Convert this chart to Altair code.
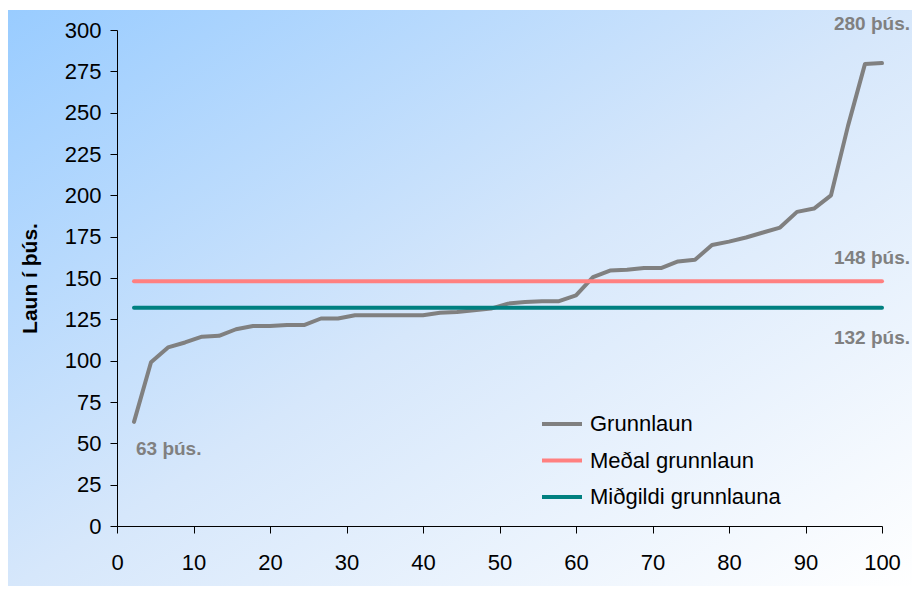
import altair as alt
import pandas as pd

# ---- data ----
grunnlaun = [63, 99, 108, 111, 114.5, 115, 119, 121, 121, 121.5, 121.5, 125.5, 125.5,
             127.5, 127.5, 127.5, 127.5, 127.5, 129, 129.5, 130.5, 131.5, 134.5, 135.5,
             136, 136, 139.5, 150.5, 154.5, 155, 156, 156, 160, 161, 170, 172, 174.5,
             177.5, 180.5, 190, 192, 200, 242, 279.5, 280]
medal = 148
midgildi = 132
series_names = ["Grunnlaun", "Meðal grunnlaun", "Miðgildi grunnlauna"]
series_colors = ["#808080", "#FF8080", "#008080"]
x_ticks = [0, 10, 20, 30, 40, 50, 60, 70, 80, 90, 100]
y_ticks = [0, 25, 50, 75, 100, 125, 150, 175, 200, 225, 250, 275, 300]
unit = "þús."

n = len(grunnlaun)
pct = [100 * (i + 1) / n for i in range(n)]

rows = [{"x": p, "y": v, "s": series_names[0]} for p, v in zip(pct, grunnlaun)]
rows += [{"x": pct[0], "y": medal, "s": series_names[1]}, {"x": pct[-1], "y": medal, "s": series_names[1]}]
rows += [{"x": pct[0], "y": midgildi, "s": series_names[2]}, {"x": pct[-1], "y": midgildi, "s": series_names[2]}]
df = pd.DataFrame(rows)

FONT = "Liberation Sans"
W, H = 765, 496
PAD_R = 30

xs = alt.Scale(domain=[0, 100], nice=False)
ys = alt.Scale(domain=[0, 300], nice=False)

bg = alt.Chart(pd.DataFrame({"a": [0]})).mark_rect(
    fill=alt.LinearGradient(
        gradient="linear", x1=0, y1=0, x2=1, y2=1,
        stops=[alt.GradientStop(color="#99CCFF", offset=0),
               alt.GradientStop(color="#D6E7FB", offset=0.5),
               alt.GradientStop(color="#FFFFFF", offset=1)]),
).encode(x=alt.value(-109), x2=alt.value(W + PAD_R), y=alt.value(-20), y2=alt.value(H + 64))

lines = alt.Chart(df).mark_line(strokeWidth=4, strokeJoin="round", strokeCap="round").encode(
    x=alt.X("x:Q", scale=xs,
            axis=alt.Axis(values=x_ticks, title=None, grid=False, tickSize=7, labelPadding=19,
                          labelFontSize=22, labelFont=FONT, labelColor="#000000",
                          domainColor="#000000", tickColor="#000000", labelFlush=False,
                          zindex=1)),
    y=alt.Y("y:Q", scale=ys,
            axis=alt.Axis(values=y_ticks, title="Laun í þús.", grid=False, tickSize=7, labelPadding=9,
                          labelFontSize=22, labelFont=FONT, labelColor="#000000",
                          domainColor="#000000", tickColor="#000000",
                          titleFont=FONT, titleFontSize=21, titleFontWeight="bold",
                          titleColor="#000000", titlePadding=24, labelFlush=False,
                          zindex=1)),
    color=alt.Color("s:N", scale=alt.Scale(domain=series_names, range=series_colors),
                    legend=alt.Legend(title=None, orient="none", legendX=433, legendY=382,
                                      symbolType="M-2,0H2", symbolSize=400, symbolStrokeWidth=4,
                                      labelFontSize=22, labelFont=FONT, labelColor="#000000",
                                      labelOffset=16, rowPadding=13.5, padding=0, labelLimit=400)),
    detail="s:N",
)

def label(xv, yv, align, dx, dy):
    d = pd.DataFrame({"x": [xv], "y": [yv], "t": [f"{round(yv)} {unit}"]})
    return alt.Chart(d).mark_text(align=align, baseline="middle", dx=dx, dy=dy, font=FONT,
                                  fontSize=19, fontWeight="bold", color="#808080").encode(
        x=alt.X("x:Q", scale=xs), y=alt.Y("y:Q", scale=ys), text="t:N")

t280 = label(pct[-1], grunnlaun[-1], "right", 28, -39)
t148 = label(pct[-1], medal, "right", 28, -23)
t132 = label(pct[-1], midgildi, "right", 28, 30)
t63 = label(pct[0], grunnlaun[0], "left", 2, 27)

chart = alt.layer(bg, lines, t280, t148, t132, t63).properties(
    width=W, height=H,
    autosize=alt.AutoSizeParams(type="none"),
    padding={"left": 109, "top": 22, "right": PAD_R, "bottom": 60},
).configure_view(strokeWidth=0).configure(background="#FFFFFF")

chart.save("out.html", embed_options={"renderer": "svg", "actions": False})
